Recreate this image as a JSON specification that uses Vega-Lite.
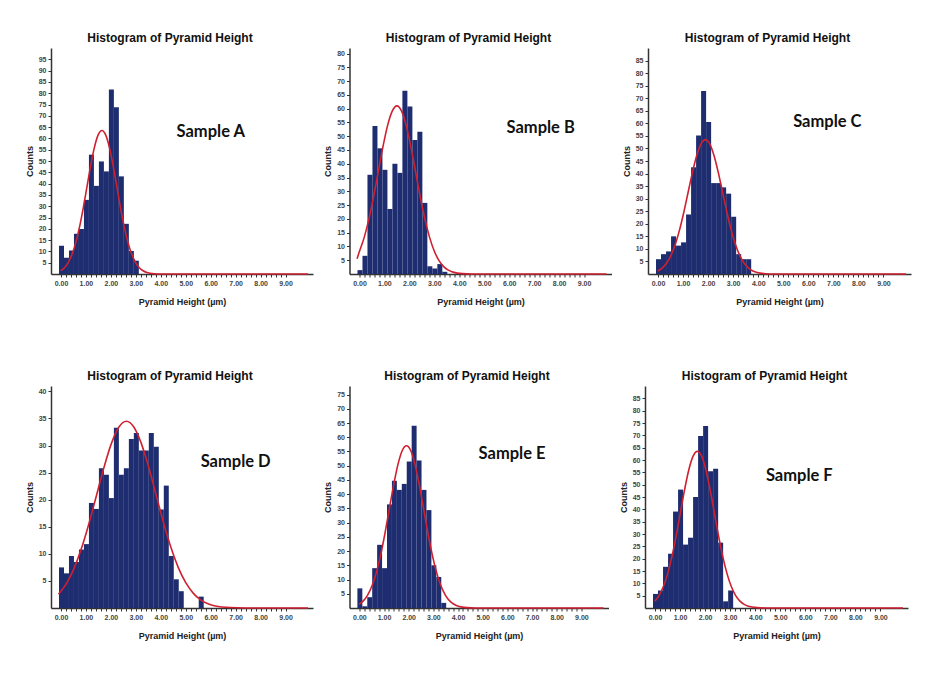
{
  "$schema": "https://vega.github.io/schema/vega-lite/v6.json",
  "background": "white",
  "padding": {"left": 25, "top": 32, "right": 5, "bottom": 5},
  "datasets": {
    "bars": [
      {"s":"A","lo":-0.1,"hi":0.1,"n":12.5},{"s":"A","lo":0.1,"hi":0.3,"n":7.2},{"s":"A","lo":0.3,"hi":0.5,"n":10.4},{"s":"A","lo":0.5,"hi":0.7,"n":17.8},{"s":"A","lo":0.7,"hi":0.9,"n":19.9},{"s":"A","lo":0.9,"hi":1.1,"n":32.8},{"s":"A","lo":1.1,"hi":1.3,"n":52.8},{"s":"A","lo":1.3,"hi":1.5,"n":39},{"s":"A","lo":1.5,"hi":1.7,"n":49.8},{"s":"A","lo":1.7,"hi":1.9,"n":45.4},{"s":"A","lo":1.9,"hi":2.1,"n":81.6},{"s":"A","lo":2.1,"hi":2.3,"n":73.8},{"s":"A","lo":2.3,"hi":2.5,"n":43.2},{"s":"A","lo":2.5,"hi":2.7,"n":22.2},{"s":"A","lo":2.7,"hi":2.9,"n":10.2},{"s":"A","lo":2.9,"hi":3.1,"n":5.9},
      {"s":"B","lo":-0.1,"hi":0.1,"n":1.4},{"s":"B","lo":0.1,"hi":0.3,"n":6.6},{"s":"B","lo":0.3,"hi":0.5,"n":36},{"s":"B","lo":0.5,"hi":0.7,"n":53.7},{"s":"B","lo":0.7,"hi":0.9,"n":45.6},{"s":"B","lo":0.9,"hi":1.1,"n":37.8},{"s":"B","lo":1.1,"hi":1.3,"n":23.6},{"s":"B","lo":1.3,"hi":1.5,"n":40},{"s":"B","lo":1.5,"hi":1.7,"n":36.7},{"s":"B","lo":1.7,"hi":1.9,"n":66.5},{"s":"B","lo":1.9,"hi":2.1,"n":60.8},{"s":"B","lo":2.1,"hi":2.3,"n":48.6},{"s":"B","lo":2.3,"hi":2.5,"n":51.6},{"s":"B","lo":2.5,"hi":2.7,"n":25.8},{"s":"B","lo":2.7,"hi":2.9,"n":2.8},{"s":"B","lo":2.9,"hi":3.1,"n":2.0},{"s":"B","lo":3.1,"hi":3.3,"n":3.6},{"s":"B","lo":3.3,"hi":3.5,"n":0.8},
      {"s":"C","lo":-0.1,"hi":0.1,"n":5.9},{"s":"C","lo":0.1,"hi":0.3,"n":7.9},{"s":"C","lo":0.3,"hi":0.5,"n":9},{"s":"C","lo":0.5,"hi":0.7,"n":15},{"s":"C","lo":0.7,"hi":0.9,"n":11.3},{"s":"C","lo":0.9,"hi":1.1,"n":12.6},{"s":"C","lo":1.1,"hi":1.3,"n":23.7},{"s":"C","lo":1.3,"hi":1.5,"n":42.5},{"s":"C","lo":1.5,"hi":1.7,"n":55.2},{"s":"C","lo":1.7,"hi":1.9,"n":72.9},{"s":"C","lo":1.9,"hi":2.1,"n":60.5},{"s":"C","lo":2.1,"hi":2.3,"n":36.2},{"s":"C","lo":2.3,"hi":2.5,"n":36.2},{"s":"C","lo":2.5,"hi":2.7,"n":34.5},{"s":"C","lo":2.7,"hi":2.9,"n":32},{"s":"C","lo":2.9,"hi":3.1,"n":22.8},{"s":"C","lo":3.1,"hi":3.3,"n":7.9},{"s":"C","lo":3.3,"hi":3.5,"n":5.9},{"s":"C","lo":3.5,"hi":3.7,"n":5.9},
      {"s":"D","lo":-0.1,"hi":0.1,"n":7.5},{"s":"D","lo":0.1,"hi":0.3,"n":6.4},{"s":"D","lo":0.3,"hi":0.5,"n":9.6},{"s":"D","lo":0.5,"hi":0.7,"n":8.5},{"s":"D","lo":0.7,"hi":0.9,"n":10.8},{"s":"D","lo":0.9,"hi":1.1,"n":11.8},{"s":"D","lo":1.1,"hi":1.3,"n":19.4},{"s":"D","lo":1.3,"hi":1.5,"n":18.3},{"s":"D","lo":1.5,"hi":1.7,"n":25.8},{"s":"D","lo":1.7,"hi":1.9,"n":24.6},{"s":"D","lo":1.9,"hi":2.1,"n":20.3},{"s":"D","lo":2.1,"hi":2.3,"n":33.3},{"s":"D","lo":2.3,"hi":2.5,"n":24.6},{"s":"D","lo":2.5,"hi":2.7,"n":25.8},{"s":"D","lo":2.7,"hi":2.9,"n":31.2},{"s":"D","lo":2.9,"hi":3.1,"n":32.3},{"s":"D","lo":3.1,"hi":3.3,"n":29.1},{"s":"D","lo":3.3,"hi":3.5,"n":29.1},{"s":"D","lo":3.5,"hi":3.7,"n":32.3},{"s":"D","lo":3.7,"hi":3.9,"n":29.8},{"s":"D","lo":3.9,"hi":4.1,"n":18.2},{"s":"D","lo":4.1,"hi":4.3,"n":22.6},{"s":"D","lo":4.3,"hi":4.5,"n":9.6},{"s":"D","lo":4.5,"hi":4.7,"n":5.3},{"s":"D","lo":4.7,"hi":4.9,"n":3.1},{"s":"D","lo":5.5,"hi":5.7,"n":2.1},
      {"s":"E","lo":-0.1,"hi":0.1,"n":6.9},{"s":"E","lo":0.1,"hi":0.3,"n":0.6},{"s":"E","lo":0.3,"hi":0.5,"n":3.8},{"s":"E","lo":0.5,"hi":0.7,"n":14},{"s":"E","lo":0.7,"hi":0.9,"n":22.2},{"s":"E","lo":0.9,"hi":1.1,"n":14},{"s":"E","lo":1.1,"hi":1.3,"n":36.4},{"s":"E","lo":1.3,"hi":1.5,"n":44.7},{"s":"E","lo":1.5,"hi":1.7,"n":41.5},{"s":"E","lo":1.7,"hi":1.9,"n":43.6},{"s":"E","lo":1.9,"hi":2.1,"n":51.5},{"s":"E","lo":2.1,"hi":2.3,"n":64},{"s":"E","lo":2.3,"hi":2.5,"n":51.8},{"s":"E","lo":2.5,"hi":2.7,"n":41.5},{"s":"E","lo":2.7,"hi":2.9,"n":34.4},{"s":"E","lo":2.9,"hi":3.1,"n":15},{"s":"E","lo":3.1,"hi":3.3,"n":10.9},{"s":"E","lo":3.3,"hi":3.5,"n":1.8},
      {"s":"F","lo":-0.1,"hi":0.1,"n":5.7},{"s":"F","lo":0.1,"hi":0.3,"n":7.1},{"s":"F","lo":0.3,"hi":0.5,"n":16.7},{"s":"F","lo":0.5,"hi":0.7,"n":22},{"s":"F","lo":0.7,"hi":0.9,"n":39.1},{"s":"F","lo":0.9,"hi":1.1,"n":48},{"s":"F","lo":1.1,"hi":1.3,"n":25.7},{"s":"F","lo":1.3,"hi":1.5,"n":28.5},{"s":"F","lo":1.5,"hi":1.7,"n":45},{"s":"F","lo":1.7,"hi":1.9,"n":69.7},{"s":"F","lo":1.9,"hi":2.1,"n":73.8},{"s":"F","lo":2.1,"hi":2.3,"n":55.4},{"s":"F","lo":2.3,"hi":2.5,"n":56.5},{"s":"F","lo":2.5,"hi":2.7,"n":26.5},{"s":"F","lo":2.7,"hi":2.9,"n":2.7},{"s":"F","lo":2.9,"hi":3.1,"n":7.1}
    ],
    "curves": [
      {"s":"A","x":-0.01,"y":1.45},{"s":"A","x":0.14,"y":2.79},{"s":"A","x":0.29,"y":5.05},{"s":"A","x":0.44,"y":8.59},{"s":"A","x":0.59,"y":13.74},{"s":"A","x":0.74,"y":20.62},{"s":"A","x":0.89,"y":29.07},{"s":"A","x":1.04,"y":38.51},{"s":"A","x":1.19,"y":47.93},{"s":"A","x":1.34,"y":56.04},{"s":"A","x":1.49,"y":61.54},{"s":"A","x":1.64,"y":63.5},{"s":"A","x":1.79,"y":61.54},{"s":"A","x":1.94,"y":56.04},{"s":"A","x":2.09,"y":47.93},{"s":"A","x":2.24,"y":38.51},{"s":"A","x":2.39,"y":29.07},{"s":"A","x":2.54,"y":20.62},{"s":"A","x":2.69,"y":13.74},{"s":"A","x":2.84,"y":8.59},{"s":"A","x":2.99,"y":5.05},{"s":"A","x":3.14,"y":2.79},{"s":"A","x":3.29,"y":1.45},{"s":"A","x":3.44,"y":0.7},{"s":"A","x":3.74,"y":0.14},{"s":"A","x":4.04,"y":0.02},{"s":"A","x":9.9,"y":0},
      {"s":"B","x":-0.1,"y":5.5},{"s":"B","x":0,"y":8.25},{"s":"B","x":0.1875,"y":13.19},{"s":"B","x":0.375,"y":19.81},{"s":"B","x":0.5625,"y":27.93},{"s":"B","x":0.75,"y":37},{"s":"B","x":0.9375,"y":46.04},{"s":"B","x":1.125,"y":53.83},{"s":"B","x":1.3125,"y":59.12},{"s":"B","x":1.5,"y":61},{"s":"B","x":1.6875,"y":59.12},{"s":"B","x":1.875,"y":53.83},{"s":"B","x":2.0625,"y":46.04},{"s":"B","x":2.25,"y":37},{"s":"B","x":2.4375,"y":27.93},{"s":"B","x":2.625,"y":19.81},{"s":"B","x":2.8125,"y":13.19},{"s":"B","x":3,"y":8.25},{"s":"B","x":3.1875,"y":4.86},{"s":"B","x":3.375,"y":2.68},{"s":"B","x":3.5625,"y":1.39},{"s":"B","x":3.75,"y":0.68},{"s":"B","x":4.125,"y":0.13},{"s":"B","x":4.5,"y":0.02},{"s":"B","x":9.9,"y":0},
      {"s":"C","x":-0.01,"y":1.22},{"s":"C","x":0.165,"y":2.35},{"s":"C","x":0.3375,"y":4.26},{"s":"C","x":0.51,"y":7.24},{"s":"C","x":0.6825,"y":11.57},{"s":"C","x":0.855,"y":17.37},{"s":"C","x":1.0275,"y":24.49},{"s":"C","x":1.2,"y":32.45},{"s":"C","x":1.3725,"y":40.38},{"s":"C","x":1.545,"y":47.21},{"s":"C","x":1.7175,"y":51.85},{"s":"C","x":1.89,"y":53.5},{"s":"C","x":2.0625,"y":51.85},{"s":"C","x":2.235,"y":47.21},{"s":"C","x":2.4075,"y":40.38},{"s":"C","x":2.58,"y":32.45},{"s":"C","x":2.7525,"y":24.49},{"s":"C","x":2.925,"y":17.37},{"s":"C","x":3.0975,"y":11.57},{"s":"C","x":3.27,"y":7.24},{"s":"C","x":3.4425,"y":4.26},{"s":"C","x":3.615,"y":2.35},{"s":"C","x":3.7875,"y":1.22},{"s":"C","x":3.96,"y":0.59},{"s":"C","x":4.305,"y":0.12},{"s":"C","x":4.65,"y":0.02},{"s":"C","x":9.9,"y":0},
      {"s":"D","x":-0.1,"y":2.53},{"s":"D","x":0.24,"y":4.67},{"s":"D","x":0.5375,"y":7.46},{"s":"D","x":0.835,"y":11.2},{"s":"D","x":1.1325,"y":15.79},{"s":"D","x":1.43,"y":20.92},{"s":"D","x":1.7275,"y":26.04},{"s":"D","x":2.025,"y":30.45},{"s":"D","x":2.3225,"y":33.44},{"s":"D","x":2.62,"y":34.5},{"s":"D","x":2.9175,"y":33.44},{"s":"D","x":3.215,"y":30.45},{"s":"D","x":3.5125,"y":26.04},{"s":"D","x":3.81,"y":20.92},{"s":"D","x":4.1075,"y":15.79},{"s":"D","x":4.405,"y":11.2},{"s":"D","x":4.7025,"y":7.46},{"s":"D","x":5,"y":4.67},{"s":"D","x":5.2975,"y":2.75},{"s":"D","x":5.595,"y":1.51},{"s":"D","x":5.8925,"y":0.79},{"s":"D","x":6.19,"y":0.38},{"s":"D","x":6.785,"y":0.08},{"s":"D","x":7.38,"y":0.01},{"s":"D","x":9.9,"y":0},
      {"s":"E","x":-0.015,"y":1.3},{"s":"E","x":0.16,"y":2.5},{"s":"E","x":0.335,"y":4.54},{"s":"E","x":0.51,"y":7.71},{"s":"E","x":0.685,"y":12.33},{"s":"E","x":0.86,"y":18.51},{"s":"E","x":1.035,"y":26.09},{"s":"E","x":1.21,"y":34.57},{"s":"E","x":1.385,"y":43.02},{"s":"E","x":1.56,"y":50.3},{"s":"E","x":1.735,"y":55.24},{"s":"E","x":1.91,"y":57},{"s":"E","x":2.085,"y":55.24},{"s":"E","x":2.26,"y":50.3},{"s":"E","x":2.435,"y":43.02},{"s":"E","x":2.61,"y":34.57},{"s":"E","x":2.785,"y":26.09},{"s":"E","x":2.96,"y":18.51},{"s":"E","x":3.135,"y":12.33},{"s":"E","x":3.31,"y":7.71},{"s":"E","x":3.485,"y":4.54},{"s":"E","x":3.66,"y":2.5},{"s":"E","x":3.835,"y":1.3},{"s":"E","x":4.01,"y":0.63},{"s":"E","x":4.36,"y":0.13},{"s":"E","x":4.71,"y":0.02},{"s":"E","x":9.9,"y":0},
      {"s":"F","x":-0.01,"y":2.79},{"s":"F","x":0.16,"y":5.05},{"s":"F","x":0.33,"y":8.59},{"s":"F","x":0.5,"y":13.74},{"s":"F","x":0.67,"y":20.62},{"s":"F","x":0.84,"y":29.07},{"s":"F","x":1.01,"y":38.51},{"s":"F","x":1.18,"y":47.93},{"s":"F","x":1.35,"y":56.04},{"s":"F","x":1.52,"y":61.54},{"s":"F","x":1.69,"y":63.5},{"s":"F","x":1.86,"y":61.54},{"s":"F","x":2.03,"y":56.04},{"s":"F","x":2.2,"y":47.93},{"s":"F","x":2.37,"y":38.51},{"s":"F","x":2.54,"y":29.07},{"s":"F","x":2.71,"y":20.62},{"s":"F","x":2.88,"y":13.74},{"s":"F","x":3.05,"y":8.59},{"s":"F","x":3.22,"y":5.05},{"s":"F","x":3.39,"y":2.79},{"s":"F","x":3.56,"y":1.45},{"s":"F","x":3.73,"y":0.7},{"s":"F","x":4.07,"y":0.14},{"s":"F","x":4.41,"y":0.02},{"s":"F","x":9.9,"y":0}
    ],
    "labels": [
      {"s":"A","x":6.0,"y":63,"t":"Sample A"},
      {"s":"B","x":7.26,"y":53,"t":"Sample B"},
      {"s":"C","x":6.76,"y":60.6,"t":"Sample C"},
      {"s":"D","x":7.0,"y":26.9,"t":"Sample D"},
      {"s":"E","x":6.19,"y":54.2,"t":"Sample E"},
      {"s":"F","x":5.76,"y":53.4,"t":"Sample F"}
    ]
  },
  "vconcat": [
    {
      "hconcat": [
        {
          "width": 262, "height": 226,
          "title": "Histogram of Pyramid Height",
          "layer": [
            {"data":{"name":"bars"},"transform":[{"filter":"datum.s==='A'"}],"mark":{"type":"bar","color":"#1e2d70","binSpacing":0},
             "encoding":{"x":{"field":"lo","type":"quantitative","bin":{"binned":true},"title":"Pyramid Height (µm)","scale":{"domain":[-0.4,10.1],"nice":false,"zero":false},"axis":{"tickCount":100,"values":[0,0.2,0.4,0.6,0.8,1,1.2,1.4,1.6,1.8,2,2.2,2.4,2.6,2.8,3,3.2,3.4,3.6,3.8,4,4.2,4.4,4.6,4.8,5,5.2,5.4,5.6,5.8,6,6.2,6.4,6.6,6.8,7,7.2,7.4,7.6,7.8,8,8.2,8.4,8.6,8.8,9],"labelExpr":"abs(datum.value - round(datum.value)) < 0.01 ? format(datum.value, '.2f') : ''","labelOverlap":false,"labelFlush":false}},"x2":{"field":"hi"},
                         "y":{"field":"n","type":"quantitative","title":"Counts","scale":{"domain":[0,100],"nice":false},"axis":{"tickCount":100,"format":"d","labelOverlap":false,"values":[5,10,15,20,25,30,35,40,45,50,55,60,65,70,75,80,85,90,95]}}}},
            {"data":{"name":"curves"},"transform":[{"filter":"datum.s==='A'"}],"mark":{"type":"line","color":"#cf2030","strokeWidth":1.6,"interpolate":"monotone"},
             "encoding":{"x":{"field":"x","type":"quantitative","title":"Pyramid Height (µm)"},"y":{"field":"y","type":"quantitative","title":"Counts"}}},
            {"data":{"name":"labels"},"transform":[{"filter":"datum.s==='A'"}],"mark":{"type":"text","font":"Lato","fontWeight":"bold","fontSize":16.5,"color":"#111"},
             "encoding":{"x":{"field":"x","type":"quantitative","title":"Pyramid Height (µm)"},"y":{"field":"y","type":"quantitative","title":"Counts"},"text":{"field":"t"}}}
          ]
        },
        {
          "width": 262, "height": 226,
          "title": "Histogram of Pyramid Height",
          "layer": [
            {"data":{"name":"bars"},"transform":[{"filter":"datum.s==='B'"}],"mark":{"type":"bar","color":"#1e2d70","binSpacing":0},
             "encoding":{"x":{"field":"lo","type":"quantitative","bin":{"binned":true},"title":"Pyramid Height (µm)","scale":{"domain":[-0.4,10.1],"nice":false,"zero":false},"axis":{"tickCount":100,"values":[0,0.2,0.4,0.6,0.8,1,1.2,1.4,1.6,1.8,2,2.2,2.4,2.6,2.8,3,3.2,3.4,3.6,3.8,4,4.2,4.4,4.6,4.8,5,5.2,5.4,5.6,5.8,6,6.2,6.4,6.6,6.8,7,7.2,7.4,7.6,7.8,8,8.2,8.4,8.6,8.8,9],"labelExpr":"abs(datum.value - round(datum.value)) < 0.01 ? format(datum.value, '.2f') : ''","labelOverlap":false,"labelFlush":false}},"x2":{"field":"hi"},
                         "y":{"field":"n","type":"quantitative","title":"Counts","scale":{"domain":[0,82],"nice":false},"axis":{"tickCount":100,"format":"d","labelOverlap":false,"values":[5,10,15,20,25,30,35,40,45,50,55,60,65,70,75,80]}}}},
            {"data":{"name":"curves"},"transform":[{"filter":"datum.s==='B'"}],"mark":{"type":"line","color":"#cf2030","strokeWidth":1.6,"interpolate":"monotone"},
             "encoding":{"x":{"field":"x","type":"quantitative","title":"Pyramid Height (µm)"},"y":{"field":"y","type":"quantitative","title":"Counts"}}},
            {"data":{"name":"labels"},"transform":[{"filter":"datum.s==='B'"}],"mark":{"type":"text","font":"Lato","fontWeight":"bold","fontSize":16.5,"color":"#111"},
             "encoding":{"x":{"field":"x","type":"quantitative","title":"Pyramid Height (µm)"},"y":{"field":"y","type":"quantitative","title":"Counts"},"text":{"field":"t"}}}
          ]
        },
        {
          "width": 263, "height": 226,
          "title": "Histogram of Pyramid Height",
          "layer": [
            {"data":{"name":"bars"},"transform":[{"filter":"datum.s==='C'"}],"mark":{"type":"bar","color":"#1e2d70","binSpacing":0},
             "encoding":{"x":{"field":"lo","type":"quantitative","bin":{"binned":true},"title":"Pyramid Height (µm)","scale":{"domain":[-0.4,10.1],"nice":false,"zero":false},"axis":{"tickCount":100,"values":[0,0.2,0.4,0.6,0.8,1,1.2,1.4,1.6,1.8,2,2.2,2.4,2.6,2.8,3,3.2,3.4,3.6,3.8,4,4.2,4.4,4.6,4.8,5,5.2,5.4,5.6,5.8,6,6.2,6.4,6.6,6.8,7,7.2,7.4,7.6,7.8,8,8.2,8.4,8.6,8.8,9],"labelExpr":"abs(datum.value - round(datum.value)) < 0.01 ? format(datum.value, '.2f') : ''","labelOverlap":false,"labelFlush":false}},"x2":{"field":"hi"},
                         "y":{"field":"n","type":"quantitative","title":"Counts","scale":{"domain":[0,90],"nice":false},"axis":{"tickCount":100,"format":"d","labelOverlap":false,"values":[5,10,15,20,25,30,35,40,45,50,55,60,65,70,75,80,85]}}}},
            {"data":{"name":"curves"},"transform":[{"filter":"datum.s==='C'"}],"mark":{"type":"line","color":"#cf2030","strokeWidth":1.6,"interpolate":"monotone"},
             "encoding":{"x":{"field":"x","type":"quantitative","title":"Pyramid Height (µm)"},"y":{"field":"y","type":"quantitative","title":"Counts"}}},
            {"data":{"name":"labels"},"transform":[{"filter":"datum.s==='C'"}],"mark":{"type":"text","font":"Lato","fontWeight":"bold","fontSize":16.5,"color":"#111"},
             "encoding":{"x":{"field":"x","type":"quantitative","title":"Pyramid Height (µm)"},"y":{"field":"y","type":"quantitative","title":"Counts"},"text":{"field":"t"}}}
          ]
        }
      ],
      "spacing": 36.5,
      "bounds": "flush"
    },
    {
      "hconcat": [
        {
          "width": 262, "height": 222,
          "title": "Histogram of Pyramid Height",
          "layer": [
            {"data":{"name":"bars"},"transform":[{"filter":"datum.s==='D'"}],"mark":{"type":"bar","color":"#1e2d70","binSpacing":0},
             "encoding":{"x":{"field":"lo","type":"quantitative","bin":{"binned":true},"title":"Pyramid Height (µm)","scale":{"domain":[-0.4,10.1],"nice":false,"zero":false},"axis":{"tickCount":100,"values":[0,0.2,0.4,0.6,0.8,1,1.2,1.4,1.6,1.8,2,2.2,2.4,2.6,2.8,3,3.2,3.4,3.6,3.8,4,4.2,4.4,4.6,4.8,5,5.2,5.4,5.6,5.8,6,6.2,6.4,6.6,6.8,7,7.2,7.4,7.6,7.8,8,8.2,8.4,8.6,8.8,9],"labelExpr":"abs(datum.value - round(datum.value)) < 0.01 ? format(datum.value, '.2f') : ''","labelOverlap":false,"labelFlush":false}},"x2":{"field":"hi"},
                         "y":{"field":"n","type":"quantitative","title":"Counts","scale":{"domain":[0,41],"nice":false},"axis":{"tickCount":100,"format":"d","labelOverlap":false,"values":[5,10,15,20,25,30,35,40]}}}},
            {"data":{"name":"curves"},"transform":[{"filter":"datum.s==='D'"}],"mark":{"type":"line","color":"#cf2030","strokeWidth":1.6,"interpolate":"monotone"},
             "encoding":{"x":{"field":"x","type":"quantitative","title":"Pyramid Height (µm)"},"y":{"field":"y","type":"quantitative","title":"Counts"}}},
            {"data":{"name":"labels"},"transform":[{"filter":"datum.s==='D'"}],"mark":{"type":"text","font":"Lato","fontWeight":"bold","fontSize":16.5,"color":"#111"},
             "encoding":{"x":{"field":"x","type":"quantitative","title":"Pyramid Height (µm)"},"y":{"field":"y","type":"quantitative","title":"Counts"},"text":{"field":"t"}}}
          ]
        },
        {
          "width": 259, "height": 222,
          "title": "Histogram of Pyramid Height",
          "layer": [
            {"data":{"name":"bars"},"transform":[{"filter":"datum.s==='E'"}],"mark":{"type":"bar","color":"#1e2d70","binSpacing":0},
             "encoding":{"x":{"field":"lo","type":"quantitative","bin":{"binned":true},"title":"Pyramid Height (µm)","scale":{"domain":[-0.4,10.1],"nice":false,"zero":false},"axis":{"tickCount":100,"values":[0,0.2,0.4,0.6,0.8,1,1.2,1.4,1.6,1.8,2,2.2,2.4,2.6,2.8,3,3.2,3.4,3.6,3.8,4,4.2,4.4,4.6,4.8,5,5.2,5.4,5.6,5.8,6,6.2,6.4,6.6,6.8,7,7.2,7.4,7.6,7.8,8,8.2,8.4,8.6,8.8,9],"labelExpr":"abs(datum.value - round(datum.value)) < 0.01 ? format(datum.value, '.2f') : ''","labelOverlap":false,"labelFlush":false}},"x2":{"field":"hi"},
                         "y":{"field":"n","type":"quantitative","title":"Counts","scale":{"domain":[0,78],"nice":false},"axis":{"tickCount":100,"format":"d","labelOverlap":false,"values":[5,10,15,20,25,30,35,40,45,50,55,60,65,70,75]}}}},
            {"data":{"name":"curves"},"transform":[{"filter":"datum.s==='E'"}],"mark":{"type":"line","color":"#cf2030","strokeWidth":1.6,"interpolate":"monotone"},
             "encoding":{"x":{"field":"x","type":"quantitative","title":"Pyramid Height (µm)"},"y":{"field":"y","type":"quantitative","title":"Counts"}}},
            {"data":{"name":"labels"},"transform":[{"filter":"datum.s==='E'"}],"mark":{"type":"text","font":"Lato","fontWeight":"bold","fontSize":16.5,"color":"#111"},
             "encoding":{"x":{"field":"x","type":"quantitative","title":"Pyramid Height (µm)"},"y":{"field":"y","type":"quantitative","title":"Counts"},"text":{"field":"t"}}}
          ]
        },
        {
          "width": 263, "height": 222,
          "title": "Histogram of Pyramid Height",
          "layer": [
            {"data":{"name":"bars"},"transform":[{"filter":"datum.s==='F'"}],"mark":{"type":"bar","color":"#1e2d70","binSpacing":0},
             "encoding":{"x":{"field":"lo","type":"quantitative","bin":{"binned":true},"title":"Pyramid Height (µm)","scale":{"domain":[-0.4,10.1],"nice":false,"zero":false},"axis":{"tickCount":100,"values":[0,0.2,0.4,0.6,0.8,1,1.2,1.4,1.6,1.8,2,2.2,2.4,2.6,2.8,3,3.2,3.4,3.6,3.8,4,4.2,4.4,4.6,4.8,5,5.2,5.4,5.6,5.8,6,6.2,6.4,6.6,6.8,7,7.2,7.4,7.6,7.8,8,8.2,8.4,8.6,8.8,9],"labelExpr":"abs(datum.value - round(datum.value)) < 0.01 ? format(datum.value, '.2f') : ''","labelOverlap":false,"labelFlush":false}},"x2":{"field":"hi"},
                         "y":{"field":"n","type":"quantitative","title":"Counts","scale":{"domain":[0,90],"nice":false},"axis":{"tickCount":100,"format":"d","labelOverlap":false,"values":[5,10,15,20,25,30,35,40,45,50,55,60,65,70,75,80,85]}}}},
            {"data":{"name":"curves"},"transform":[{"filter":"datum.s==='F'"}],"mark":{"type":"line","color":"#cf2030","strokeWidth":1.6,"interpolate":"monotone"},
             "encoding":{"x":{"field":"x","type":"quantitative","title":"Pyramid Height (µm)"},"y":{"field":"y","type":"quantitative","title":"Counts"}}},
            {"data":{"name":"labels"},"transform":[{"filter":"datum.s==='F'"}],"mark":{"type":"text","font":"Lato","fontWeight":"bold","fontSize":16.5,"color":"#111"},
             "encoding":{"x":{"field":"x","type":"quantitative","title":"Pyramid Height (µm)"},"y":{"field":"y","type":"quantitative","title":"Counts"},"text":{"field":"t"}}}
          ]
        }
      ],
      "spacing": 36.5,
      "bounds": "flush"
    }
  ],
  "spacing": 64,
  "config": {
    "view": {"stroke": null},
    "font": "Liberation Sans",
    "title": {"fontSize": 12, "fontWeight": "bold", "font": "Liberation Sans", "color": "#111", "dx": -12, "offset": 3},
    "axis": {"grid": false, "domainColor": "#333", "domainWidth": 1.5, "tickColor": "#333", "tickSize": 3, "tickWidth": 1,
             "labelFont": "Liberation Sans", "labelFontSize": 7, "labelColor": "#444", "labelFontWeight": "bold",
             "titleFont": "Liberation Sans", "titleFontSize": 9, "titleFontWeight": "bold", "titleColor": "#222"},
    "axisX": {"labelPadding": 2, "titlePadding": 11},
    "axisY": {"labelPadding": 2, "titlePadding": 4}
  }
}
